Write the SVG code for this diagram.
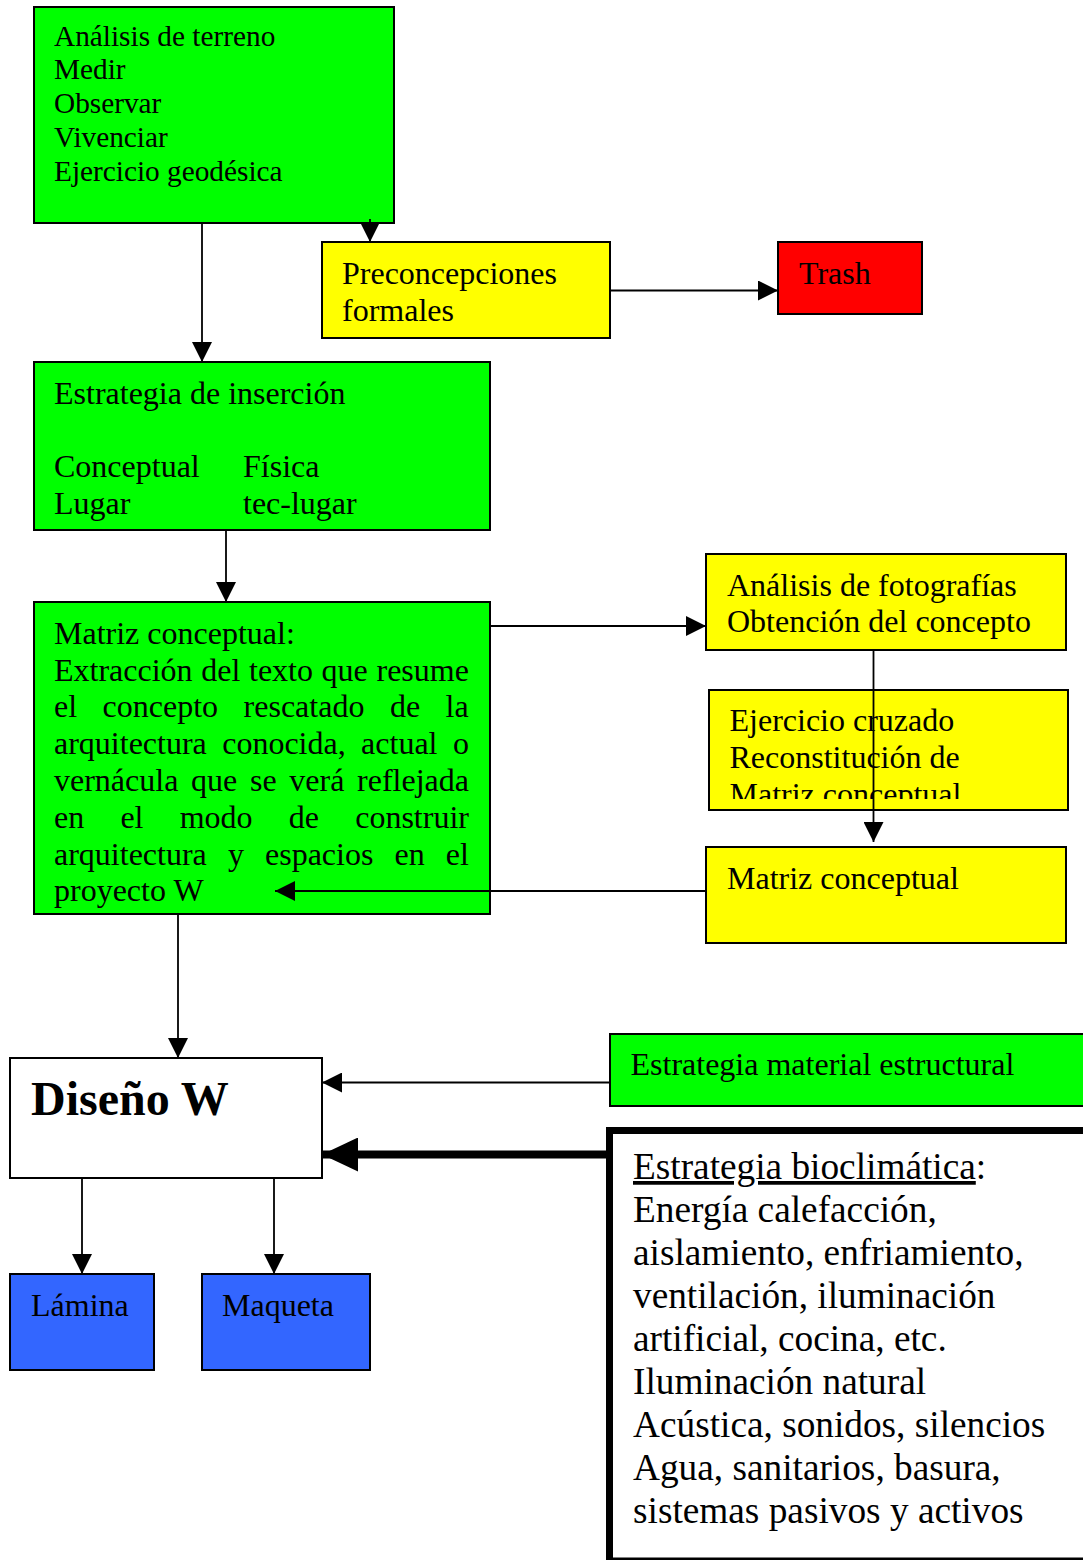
<svg xmlns="http://www.w3.org/2000/svg" width="1083" height="1560" viewBox="0 0 1083 1560">
<style>
text{font-family:"Liberation Serif","Times New Roman",serif;fill:#000}
.f29{font-size:29.3px}
.f32{font-size:32px}
.f37{font-size:37.3px}
.box{stroke:#000;stroke-width:2}
.g{fill:#00ff00}.y{fill:#ffff00}.r{fill:#ff0000}.b{fill:#3366ff}.w{fill:#ffffff}
.ln{fill:none;stroke:#000;stroke-width:1.8}
.thick{fill:none;stroke:#000;stroke-width:8}
</style>
<defs>
<marker id="arr" markerUnits="userSpaceOnUse" markerWidth="20" markerHeight="20" refX="20" refY="10" orient="auto">
<path d="M0,0 L20,10 L0,20 z" fill="#000"/>
</marker>
<marker id="arrBig" markerUnits="userSpaceOnUse" markerWidth="36" markerHeight="34" refX="36" refY="17" orient="auto">
<path d="M0,0 L36,17 L0,34 z" fill="#000"/>
</marker>
<clipPath id="clipEj"><rect x="709" y="690" width="359" height="109"/></clipPath>
</defs>

<g id="n-analisis-terreno">
<rect class="box g" x="34" y="7" width="360" height="216"/>
<text class="f29" x="54" y="45.5">Análisis de terreno</text>
<text class="f29" x="54" y="79.3">Medir</text>
<text class="f29" x="54" y="113.1">Observar</text>
<text class="f29" x="54" y="146.9">Vivenciar</text>
<text class="f29" x="54" y="180.7">Ejercicio geodésica</text>
</g>

<g id="n-preconcepciones">
<rect class="box y" x="322" y="242" width="288" height="96"/>
<text class="f32" x="342" y="284.2">Preconcepciones</text>
<text class="f32" x="342" y="320.7">formales</text>
</g>

<g id="n-trash">
<rect class="box r" x="778" y="242" width="144" height="72"/>
<text class="f32" x="799" y="284.2">Trash</text>
</g>

<g id="n-estrategia-insercion">
<rect class="box g" x="34" y="362" width="456" height="168"/>
<text class="f32" x="54" y="404.2">Estrategia de inserción</text>
<text class="f32" x="54" y="477.2">Conceptual</text>
<text class="f32" x="243" y="477.2">Física</text>
<text class="f32" x="54" y="514.2">Lugar</text>
<text class="f32" x="243" y="514.2">tec-lugar</text>
</g>

<g id="n-matriz-conceptual-green">
<rect class="box g" x="34" y="602" width="456" height="312"/>
<text class="f32" x="54" y="643.8">Matriz conceptual:</text>
<text class="f32" x="54" y="680.6" word-spacing="0.65">Extracción del texto que resume</text>
<text class="f32" x="54" y="717.4" word-spacing="17.5">el concepto rescatado de la</text>
<text class="f32" x="54" y="754.2" word-spacing="7.4">arquitectura conocida, actual o</text>
<text class="f32" x="54" y="791" word-spacing="4.7">vernácula que se verá reflejada</text>
<text class="f32" x="54" y="827.8" word-spacing="28.2">en el modo de construir</text>
<text class="f32" x="54" y="864.6" word-spacing="13.1">arquitectura y espacios en el</text>
<text class="f32" x="54" y="901.4">proyecto W</text>
</g>

<g id="n-analisis-fotografias">
<rect class="box y" x="706" y="554" width="360" height="96"/>
<text class="f32" x="727" y="595.5">Análisis de fotografías</text>
<text class="f32" x="727" y="632.3">Obtención del concepto</text>
</g>

<g id="n-ejercicio-cruzado">
<rect class="box y" x="709" y="690" width="359" height="120"/>
<g clip-path="url(#clipEj)">
<text class="f32" x="729.5" y="731">Ejercicio cruzado</text>
<text class="f32" x="729.5" y="767.8">Reconstitución de</text>
<text class="f32" x="729.5" y="804.6">Matriz conceptual</text>
</g>
</g>

<g id="n-matriz-conceptual-yellow">
<rect class="box y" x="706" y="847" width="360" height="96"/>
<text class="f32" x="727" y="889">Matriz conceptual</text>
</g>

<g id="n-diseno-w">
<rect class="box w" x="10" y="1058" width="312" height="120"/>
<text x="31" y="1114.5" style="font-size:48px;font-weight:bold">Diseño W</text>
</g>

<g id="n-estrategia-material">
<rect class="box g" x="610" y="1034" width="490" height="72"/>
<text class="f32" x="630.5" y="1075">Estrategia material estructural</text>
</g>

<g id="n-estrategia-bioclimatica">
<rect x="609.5" y="1130.5" width="500" height="430.5" fill="#ffffff" stroke="#000" stroke-width="7"/>
<text class="f37" x="633" y="1179"><tspan text-decoration="underline">Estrategia bioclimática</tspan>:</text>
<text class="f37" x="633" y="1222">Energía calefacción,</text>
<text class="f37" x="633" y="1265">aislamiento, enfriamiento,</text>
<text class="f37" x="633" y="1308">ventilación, iluminación</text>
<text class="f37" x="633" y="1351">artificial, cocina, etc.</text>
<text class="f37" x="633" y="1394">Iluminación natural</text>
<text class="f37" x="633" y="1437">Acústica, sonidos, silencios</text>
<text class="f37" x="633" y="1480">Agua, sanitarios, basura,</text>
<text class="f37" x="633" y="1523">sistemas pasivos y activos</text>
</g>

<g id="n-lamina">
<rect class="box b" x="10" y="1274" width="144" height="96"/>
<text class="f32" x="31" y="1315.7">Lámina</text>
</g>

<g id="n-maqueta">
<rect class="box b" x="202" y="1274" width="168" height="96"/>
<text class="f32" x="222" y="1315.7">Maqueta</text>
</g>

<g id="connectors">
<path class="ln" d="M202,223 V362" marker-end="url(#arr)"/>
<path class="ln" d="M370,219 V242" marker-end="url(#arr)"/>
<path class="ln" d="M610,290.5 H778" marker-end="url(#arr)"/>
<path class="ln" d="M226,530 V602" marker-end="url(#arr)"/>
<path class="ln" d="M490,626 H706" marker-end="url(#arr)"/>
<path class="ln" d="M873.5,650 V842" marker-end="url(#arr)"/>
<path class="ln" d="M706,891 H275" marker-end="url(#arr)"/>
<path class="ln" d="M178,914 V1058" marker-end="url(#arr)"/>
<path class="ln" d="M610,1082.5 H322" marker-end="url(#arr)"/>
<path class="thick" d="M606,1154.5 H322" marker-end="url(#arrBig)"/>
<path class="ln" d="M82,1178 V1274" marker-end="url(#arr)"/>
<path class="ln" d="M274,1178 V1274" marker-end="url(#arr)"/>
</g>
</svg>
